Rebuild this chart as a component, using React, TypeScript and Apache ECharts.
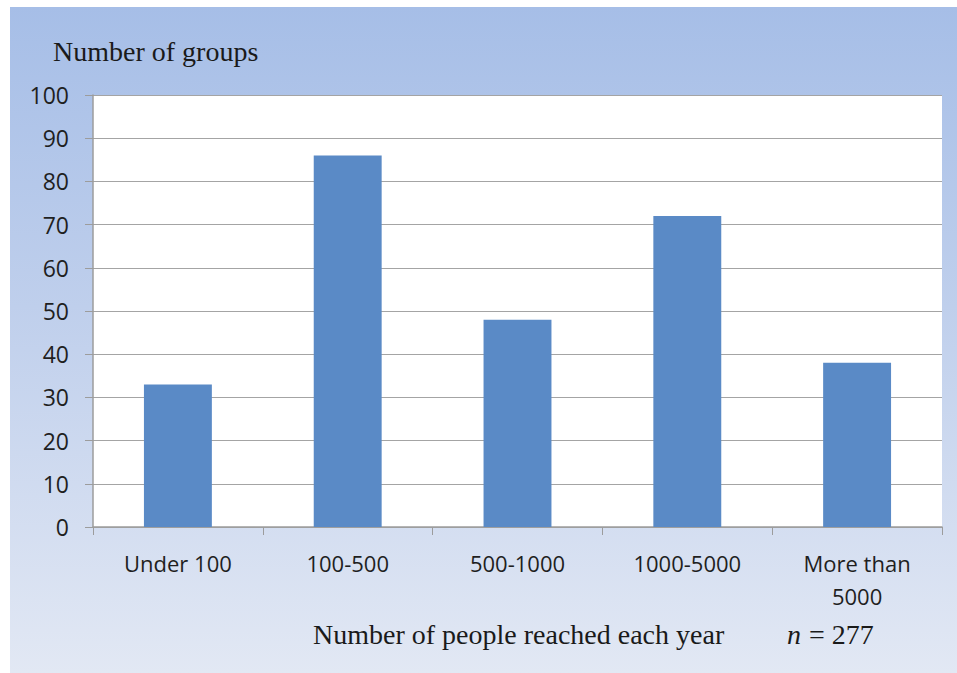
import React, { useEffect, useRef } from "react";
import * as echarts from "echarts";

const categories = ["Under 100", "100-500", "500-1000", "1000-5000", "More than\n5000"];
const groupCounts = [33, 86, 48, 72, 38];
const yAxisTitle = "Number of groups";
const xAxisTitle = "Number of people reached each year";
const sampleSize = "= 277";

export default function App() {
  const ref = useRef<HTMLDivElement>(null);
  useEffect(() => {
    if (!ref.current) return;
    const chart = echarts.init(ref.current, null, { renderer: "svg" });
    const sans = "'Open Sans', sans-serif";
    const serif = "'Liberation Serif', 'Times New Roman', serif";
    chart.setOption({
      animation: false,
      backgroundColor: "#ffffff",
      graphic: [
        {
          type: "rect",
          z: -10,
          silent: true,
          shape: { x: 10, y: 7, width: 947, height: 666 },
          style: {
            fill: new echarts.graphic.LinearGradient(0, 0, 0, 1, [
              { offset: 0, color: "#a6bee7" },
              { offset: 0.45, color: "#bfcfec" },
              { offset: 1, color: "#e2e8f4" },
            ]),
          },
        },
        {
          type: "text",
          left: 53,
          top: 37,
          style: { text: yAxisTitle, font: `28px ${serif}`, fill: "#1a1a1a" },
        },
        {
          type: "text",
          left: 313,
          top: 620,
          style: { text: xAxisTitle, font: `28px ${serif}`, fill: "#1a1a1a" },
        },
        {
          type: "text",
          left: 787,
          top: 620,
          style: { text: "n", font: `italic 28px ${serif}`, fill: "#1a1a1a" },
        },
        {
          type: "text",
          left: 809,
          top: 620,
          style: { text: sampleSize, font: `28px ${serif}`, fill: "#1a1a1a" },
        },
      ],
      grid: {
        left: 93,
        right: 15,
        top: 95,
        bottom: 146,
        show: true,
        backgroundColor: "#ffffff",
        borderWidth: 0,
      },
      xAxis: {
        type: "category",
        data: categories,
        boundaryGap: true,
        axisLine: { show: true, lineStyle: { color: "#9c9c9c", width: 1.5 } },
        axisTick: { show: true, length: 8, interval: 0, lineStyle: { color: "#9c9c9c" } },
        axisLabel: {
          interval: 0,
          margin: 19,
          fontFamily: sans,
          fontSize: 22,
          color: "#1f1f1f",
          lineHeight: 33,
        },
        splitLine: { show: false },
      },
      yAxis: {
        type: "value",
        min: 0,
        max: 100,
        interval: 10,
        axisLine: { show: true, lineStyle: { color: "#9c9c9c", width: 1.5 } },
        axisTick: { show: true, length: 8, lineStyle: { color: "#9c9c9c" } },
        axisLabel: {
          margin: 24,
          fontFamily: sans,
          fontSize: 23,
          color: "#1f1f1f",
        },
        splitLine: { show: true, lineStyle: { color: "#a4a4a4", width: 1.2 } },
      },
      series: [
        {
          type: "bar",
          data: groupCounts,
          barWidth: "40%",
          itemStyle: { color: "#5a8ac6" },
        },
      ],
    });
    return () => chart.dispose();
  }, []);
  return (
    <div
      ref={ref}
      style={{ position: "absolute", left: 0, top: 0, width: 957, height: 673 }}
    />
  );
}
